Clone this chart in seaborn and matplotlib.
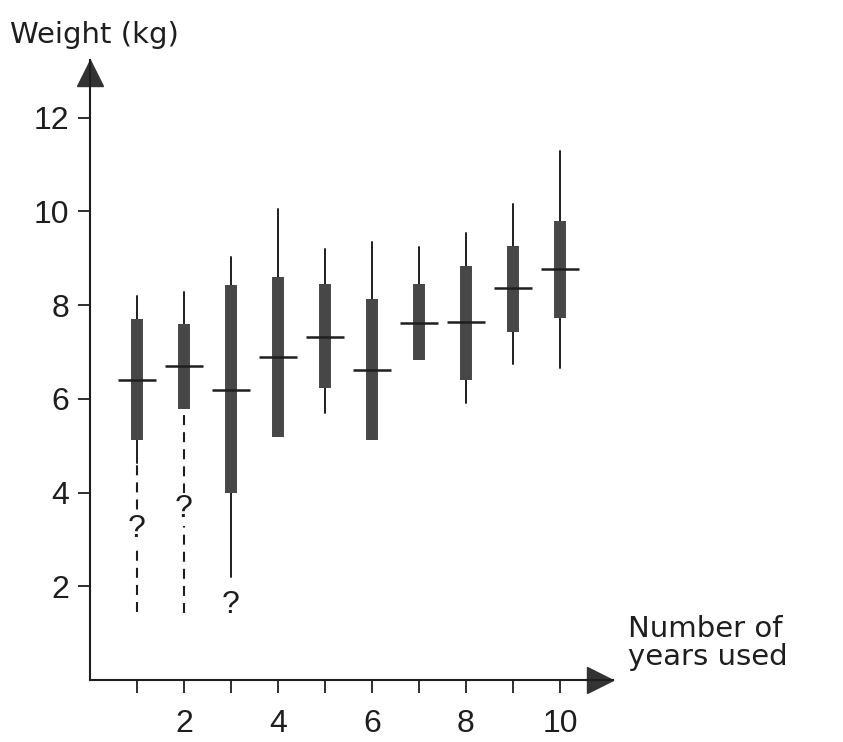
import numpy as np
import pandas as pd
import matplotlib
matplotlib.use("Agg")
import matplotlib.pyplot as plt
from matplotlib.transforms import offset_copy
import seaborn as sns

# Weight distribution by number of years of use
years = [1, 2, 3, 4, 5, 6, 7, 8, 9, 10]
q1 = [5.13, 5.79, 4.00, 5.19, 6.23, 5.13, 6.83, 6.40, 7.43, 7.72]
q3 = [7.70, 7.60, 8.43, 8.60, 8.45, 8.13, 8.45, 8.83, 9.26, 9.79]
median = [6.40, 6.70, 6.19, 6.89, 7.32, 6.62, 7.62, 7.64, 8.36, 8.77]
whisker_hi = [8.19, 8.28, 9.02, 10.04, 9.19, 9.34, 9.23, 9.53, 10.15, 11.28]
whisker_lo = [4.64, np.nan, 2.19, np.nan, 5.70, np.nan, np.nan, 5.91, 6.74, 6.66]
# uncertain lower extent (dashed), marked with "?"
uncertain_lo = [1.45, 1.43, np.nan, np.nan, np.nan, np.nan, np.nan, np.nan, np.nan, np.nan]
question_years = [1, 2, 3]
question_kg = [3.23, 3.64, 1.60]

xtick_pos = years
xtick_labels = ["", "2", "", "4", "", "6", "", "8", "", "10"]
ytick_pos = [2, 4, 6, 8, 10, 12]

sns.set_style("ticks")
plt.rcParams["font.family"] = ["Liberation Sans", "DejaVu Sans"]

INK = "#1e1e1e"
BOX = "#474747"


def segments(lo, hi):
    rows = []
    for yr, a, b in zip(years, lo, hi):
        if np.isnan(a) or np.isnan(b):
            continue
        rows.append({"year": yr, "kg": a, "unit": yr})
        rows.append({"year": yr, "kg": b, "unit": yr})
    return pd.DataFrame(rows)


fig = plt.figure(figsize=(8.43, 7.42), dpi=100)
ax = fig.add_axes([90 / 843, 62 / 742, 523 / 843, 620 / 742])

# whiskers
common = dict(x="year", y="kg", units="unit", estimator=None, legend=False,
              ax=ax, color=INK)
sns.lineplot(data=segments(q3, whisker_hi), lw=1.4, **common)
sns.lineplot(data=segments(q1, whisker_lo), lw=1.4, **common)
dash_start = [w if not np.isnan(w) else q for w, q in zip(whisker_lo, q1)]
sns.lineplot(data=segments(dash_start, uncertain_lo), lw=1.5,
             linestyle=(0, (4.8, 3.4)), **common)

# boxes (interquartile range)
sns.lineplot(data=segments(q1, q3), x="year", y="kg", units="unit",
             estimator=None, legend=False, ax=ax, color=BOX, lw=8.6,
             solid_capstyle="butt")

# medians
med_rows = []
for yr, m in zip(years, median):
    med_rows.append({"x": yr - 0.41, "kg": m, "unit": yr})
    med_rows.append({"x": yr + 0.41, "kg": m, "unit": yr})
sns.lineplot(data=pd.DataFrame(med_rows), x="x", y="kg", units="unit",
             estimator=None, legend=False, ax=ax, color=INK, lw=1.8,
             solid_capstyle="butt")

for yr, k in zip(question_years, question_kg):
    ax.text(yr, k, "?", ha="center", va="center", fontsize=23, color=INK,
            bbox=dict(facecolor="white", edgecolor="none", pad=1.0), zorder=5)

ax.set_xlim(0, 11.13)
ax.set_ylim(0, 13.23)
ax.set_xticks(xtick_pos)
ax.set_xticklabels(xtick_labels)
ax.set_yticks(ytick_pos)
ax.set_yticklabels([str(v) for v in ytick_pos])
ax.set_xlabel("")
ax.set_ylabel("")
ax.tick_params(axis="both", direction="out", colors=INK, labelsize=23,
               width=1.3, bottom=True, left=True)
ax.tick_params(axis="x", length=9, pad=12)
ax.tick_params(axis="y", length=9, pad=6)

sns.despine(ax=ax)
for side in ("left", "bottom"):
    ax.spines[side].set_color(INK)
    ax.spines[side].set_linewidth(1.5)

# axis arrowheads
up = offset_copy(ax.transAxes, fig=fig, y=-13, units="dots")
right = offset_copy(ax.transAxes, fig=fig, x=-13, units="dots")
ax.plot([0], [1], marker="^", ms=18.7, color="#333333", transform=up,
        clip_on=False)
ax.plot([1], [0], marker=">", ms=18.7, color="#333333", transform=right,
        clip_on=False)

fig.text(10 / 843, 1 - 43 / 742, "Weight (kg)", ha="left", va="baseline",
         fontsize=21, color=INK, family=["DejaVu Sans"])
fig.text(628 / 843, 1 - 665 / 742, "Number of\nyears used", ha="left",
         va="baseline", fontsize=21, color=INK, family=["DejaVu Sans"],
         linespacing=0.98)

fig.savefig("out.png", dpi=100, facecolor="white")
